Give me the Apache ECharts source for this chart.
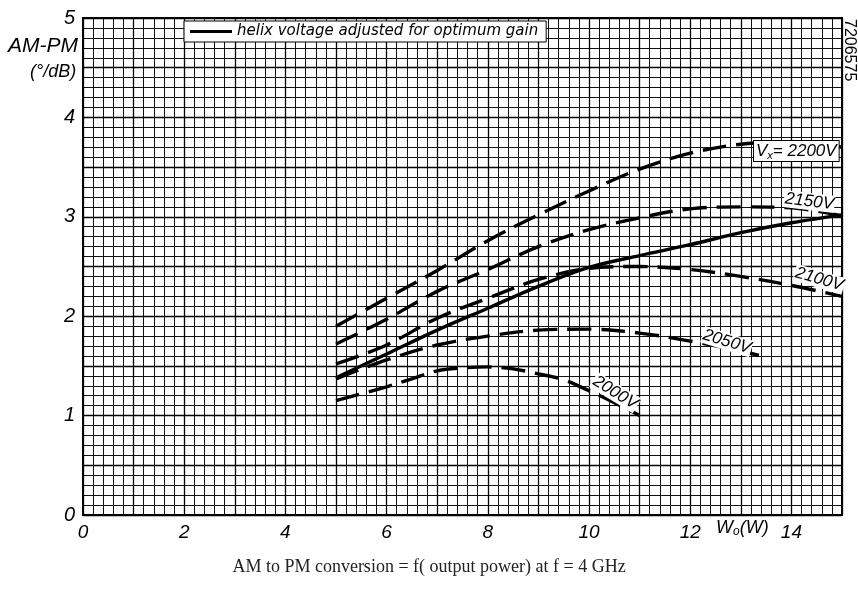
<!DOCTYPE html>
<html><head><meta charset="utf-8">
<script src="https://cdn.jsdelivr.net/npm/echarts@6/dist/echarts.min.js"></script>
<style>html,body{margin:0;padding:0;background:#fff}#c{width:858px;height:598px}</style>
</head><body><div id="c"></div>
<script>
// Output power W0 (W)
var xsMain = [5, 6, 7, 8, 9, 10, 11, 12, 13, 14, 15];
var optimumGain = [1.38, 1.62, 1.86, 2.08, 2.30, 2.49, 2.61, 2.72, 2.84, 2.94, 3.02];
var v2200 = [1.90, 2.18, 2.46, 2.76, 3.02, 3.26, 3.48, 3.64, 3.73, 3.75, 3.70];
var v2150 = [1.72, 1.97, 2.25, 2.47, 2.70, 2.87, 2.99, 3.08, 3.10, 3.09, 3.01];
var v2100 = [1.52, 1.71, 1.98, 2.18, 2.37, 2.48, 2.50, 2.47, 2.40, 2.31, 2.20];
var xs2050 = [5, 6, 7, 8, 9, 10, 11, 12, 13, 13.4];
var v2050 = [1.37, 1.56, 1.71, 1.80, 1.86, 1.87, 1.83, 1.75, 1.65, 1.60];
var xs2000 = [5, 6, 6.5, 7, 7.5, 8, 8.5, 9, 9.5, 10, 10.5, 11];
var v2000 = [1.15, 1.29, 1.37, 1.45, 1.48, 1.49, 1.47, 1.42, 1.36, 1.25, 1.13, 1.00];
var xTickLabels = [0, 2, 4, 6, 8, 10, 12, 14];
var yTickLabels = [0, 1, 2, 3, 4, 5];
var legendName = 'helix voltage adjusted for optimum gain';

function pairs(xs, ys) { return xs.map(function (x, i) { return [x, ys[i]]; }); }

var F = 'Liberation Sans';
var chart = echarts.init(document.getElementById('c'), null, {renderer: 'canvas'});
function dashed(name, xs, ys) {
  return {
    name: name, type: 'line', data: pairs(xs, ys), smooth: 0.35, symbol: 'none',
    lineStyle: {color: '#000', width: 3.4, type: [24, 10], cap: 'butt'}, z: 5
  };
}
var option = {
  animation: false,
  backgroundColor: '#fff',
  grid: {left: 83, right: 16, top: 18, bottom: 83, show: true, borderColor: '#000', borderWidth: 2},
  legend: {
    data: [{name: legendName, icon: 'rect'}], left: 184, top: 21, padding: [3, 8, 3, 6], itemWidth: 42, itemHeight: 3, itemGap: 6,
    backgroundColor: '#fff', borderColor: '#000', borderWidth: 1, selectedMode: false,
    textStyle: {fontFamily: 'DejaVu Sans', fontStyle: 'italic', fontSize: 15, color: '#000'}
  },
  xAxis: {
    type: 'value', min: 0, max: 15, interval: 1,
    axisLine: {show: true, lineStyle: {color: '#000', width: 2}},
    axisTick: {show: false},
    splitLine: {show: true, lineStyle: {color: '#000', width: 1.3}},
    minorTick: {show: false, splitNumber: 5},
    minorSplitLine: {show: true, lineStyle: {color: '#111', width: 1}},
    axisLabel: {
      margin: 8, fontFamily: F, fontStyle: 'italic', fontSize: 19, color: '#000',
      formatter: function (v) { var r = Math.round(v); return (Math.abs(v - r) < 1e-6 && xTickLabels.indexOf(r) >= 0) ? String(r) : ''; }
    }
  },
  yAxis: {
    type: 'value', min: 0, max: 5, interval: 0.5,
    axisLine: {show: true, lineStyle: {color: '#000', width: 2}},
    axisTick: {show: false},
    splitLine: {show: true, lineStyle: {color: '#000', width: 1.3}},
    minorTick: {show: false, splitNumber: 5},
    minorSplitLine: {show: true, lineStyle: {color: '#111', width: 1}},
    axisLabel: {
      margin: 8, fontFamily: F, fontStyle: 'italic', fontSize: 20, color: '#000',
      formatter: function (v) { var r = Math.round(v); return (Math.abs(v - r) < 1e-6 && yTickLabels.indexOf(r) >= 0) ? String(r) : ''; }
    }
  },
  series: [
    {name: legendName, type: 'line', data: pairs(xsMain, optimumGain), smooth: 0.35, symbol: 'none',
     lineStyle: {color: '#000', width: 3.4}, itemStyle: {color: '#000'}, z: 6},
    dashed('2200V', xsMain, v2200),
    dashed('2150V', xsMain, v2150),
    dashed('2100V', xsMain, v2100),
    dashed('2050V', xs2050, v2050),
    dashed('2000V', xs2000, v2000)
  ],
  graphic: [
    {type: 'text', left: 8, top: 36, style: {text: 'AM-PM', font: 'italic 21px "Liberation Sans"', fill: '#000'}},
    {type: 'text', left: 30, top: 63, style: {text: '(°/dB)', font: 'italic 18px "Liberation Sans"', fill: '#000'}},
    {type: 'text', x: 857, y: 19, rotation: -Math.PI / 2, style: {text: '7206575', font: '16px "Liberation Sans"', fill: '#000', textVerticalAlign: 'top'}},
    {type: 'text', left: 716, top: 519, style: {
      text: '{a|W}{s|o}{a|(W)}',
      rich: {a: {font: 'italic 18px "Liberation Sans"', fill: '#000'}, s: {font: 'italic 12px "Liberation Sans"', fill: '#000', padding: [8, 0, 0, 0]}}
    }},
    {type: 'text', left: 753, top: 140, z: 10, style: {
      text: '{a|V}{s|x}{a|= 2200V}', backgroundColor: '#fff', borderColor: '#000', borderWidth: 1, padding: [1, 2, 0, 2],
      rich: {a: {font: 'italic 17px "Liberation Sans"', fill: '#000'}, s: {font: 'italic 11px "Liberation Sans"', fill: '#000', padding: [8, 0, 0, 0]}}
    }},
    {type: 'text', x: 785, y: 190, rotation: -0.12, z: 10, style: {text: '2150V', font: 'italic 17px "Liberation Sans"', fill: '#000', backgroundColor: '#fff', padding: [0, 1]}},
    {type: 'text', x: 797, y: 264, rotation: -0.28, z: 10, style: {text: '2100V', font: 'italic 17px "Liberation Sans"', fill: '#000', backgroundColor: '#fff', padding: [0, 1]}},
    {type: 'text', x: 705, y: 326, rotation: -0.3, z: 10, style: {text: '2050V', font: 'italic 17px "Liberation Sans"', fill: '#000', backgroundColor: '#fff', padding: [0, 1]}},
    {type: 'text', x: 598, y: 372, rotation: -0.55, z: 10, style: {text: '2000V', font: 'italic 17px "Liberation Sans"', fill: '#000', backgroundColor: '#fff', padding: [0, 1]}},
    {type: 'text', left: 'center', top: 558, style: {text: 'AM to PM conversion = f( output power) at f = 4 GHz', font: '18px "Liberation Serif"', fill: '#222'}}
  ]
};
chart.setOption(option);
</script></body></html>
